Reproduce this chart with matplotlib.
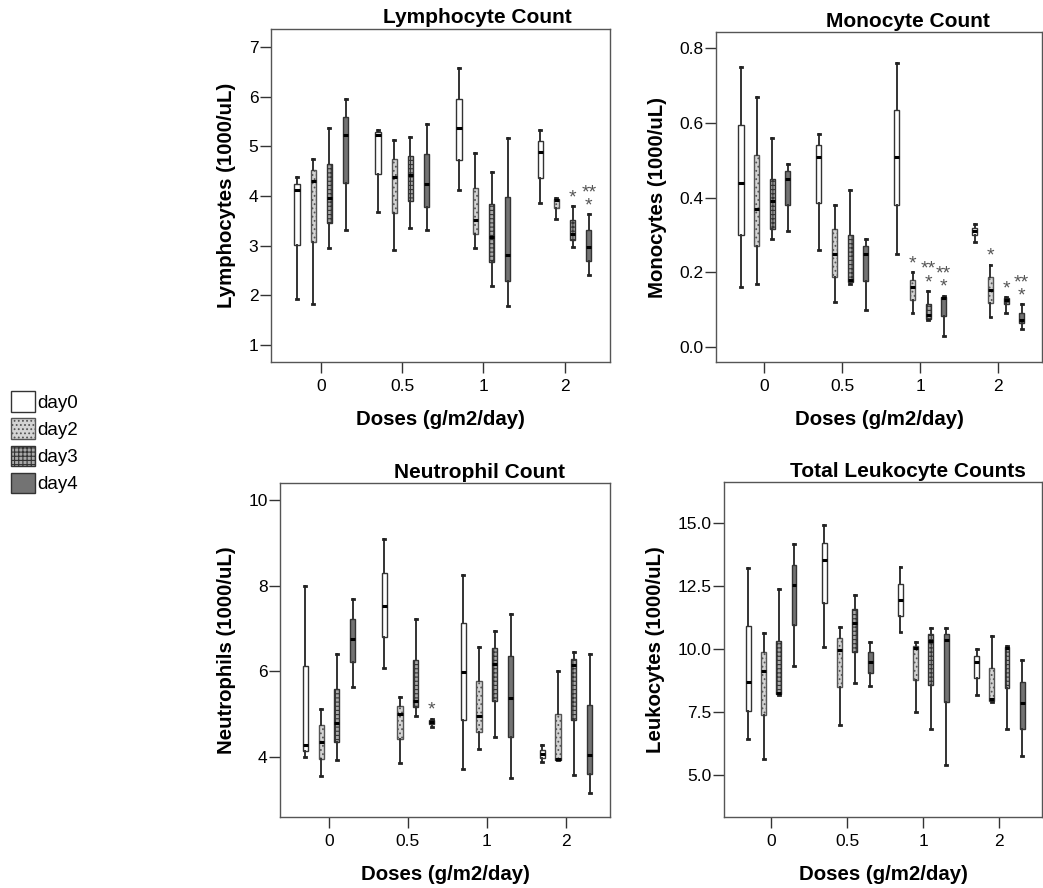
import matplotlib.pyplot as plt
from matplotlib.patches import Patch

plt.rcParams['font.family'] = ['Liberation Sans', 'DejaVu Sans']
plt.rcParams['hatch.linewidth'] = 0.8

doses = ["0", "0.5", "1", "2"]
days = ["day0", "day2", "day3", "day4"]

# (whisker low, q1, median, q3, whisker high), dose by dose, day0..day4 inside each dose
lymph = [
    (1.93, 3.01, 4.13, 4.25, 4.39), (1.83, 3.07, 4.30, 4.52, 4.74),
    (2.95, 3.46, 3.97, 4.65, 5.36), (3.31, 4.27, 5.22, 5.59, 5.96),
    (3.67, 4.45, 5.22, 5.28, 5.32), (2.91, 3.65, 4.39, 4.75, 5.12),
    (3.36, 3.90, 4.42, 4.80, 5.19), (3.31, 3.78, 4.25, 4.84, 5.44),
    (4.12, 4.73, 5.36, 5.95, 6.58), (2.95, 3.23, 3.51, 4.17, 4.86),
    (2.19, 2.68, 3.17, 3.83, 4.49), (1.79, 2.29, 2.82, 3.98, 5.16),
    (3.85, 4.37, 4.89, 5.10, 5.32), (3.53, 3.75, 3.92, 3.95, 3.97),
    (2.98, 3.11, 3.23, 3.51, 3.80), (2.41, 2.69, 2.98, 3.31, 3.63),
]
mono = [
    (0.16, 0.30, 0.44, 0.593, 0.749), (0.17, 0.27, 0.37, 0.515, 0.67),
    (0.29, 0.317, 0.39, 0.45, 0.56), (0.31, 0.38, 0.45, 0.47, 0.49),
    (0.26, 0.386, 0.51, 0.54, 0.57), (0.12, 0.187, 0.25, 0.316, 0.38),
    (0.17, 0.174, 0.18, 0.30, 0.42), (0.10, 0.176, 0.25, 0.27, 0.29),
    (0.25, 0.38, 0.51, 0.635, 0.76), (0.09, 0.127, 0.16, 0.18, 0.20),
    (0.073, 0.076, 0.087, 0.116, 0.15), (0.03, 0.082, 0.131, 0.135, 0.138),
    (0.28, 0.30, 0.31, 0.318, 0.33), (0.08, 0.118, 0.153, 0.187, 0.22),
    (0.092, 0.114, 0.125, 0.131, 0.134), (0.049, 0.064, 0.073, 0.091, 0.114),
]
neut = [
    (4.00, 4.14, 4.27, 6.13, 8.00), (3.55, 3.96, 4.35, 4.74, 5.13),
    (3.92, 4.36, 4.79, 5.60, 6.41), (5.64, 6.22, 6.75, 7.22, 7.69),
    (6.08, 6.80, 7.53, 8.31, 9.09), (3.86, 4.43, 5.00, 5.19, 5.40),
    (4.97, 5.17, 5.32, 6.27, 7.22), (4.71, 4.78, 4.83, 4.87, 4.89),
    (3.71, 4.86, 5.99, 7.12, 8.25), (4.19, 4.58, 4.97, 5.78, 6.57),
    (4.47, 5.32, 6.17, 6.55, 6.94), (3.52, 4.47, 5.39, 6.35, 7.33),
    (3.88, 3.98, 4.08, 4.17, 4.27), (3.92, 3.94, 3.96, 5.00, 6.02),
    (3.59, 4.87, 6.14, 6.30, 6.45), (3.16, 3.61, 4.04, 5.21, 6.41),
]
leuko = [
    (6.42, 7.54, 8.68, 10.93, 13.24), (5.62, 7.38, 9.13, 9.87, 10.63),
    (8.18, 8.21, 8.25, 10.32, 12.39), (9.34, 10.96, 12.55, 13.34, 14.17),
    (10.10, 11.82, 13.52, 14.21, 14.91), (6.99, 8.51, 9.97, 10.43, 10.89),
    (8.67, 9.90, 11.05, 11.58, 12.13), (8.54, 9.04, 9.50, 9.87, 10.30),
    (10.66, 11.33, 11.95, 12.59, 13.28), (7.48, 8.77, 10.03, 10.13, 10.30),
    (6.81, 8.58, 10.32, 10.59, 10.85), (5.40, 7.89, 10.36, 10.59, 10.83),
    (8.18, 8.84, 9.50, 9.74, 10.00), (7.89, 7.95, 8.02, 9.26, 10.52),
    (6.81, 8.44, 10.03, 10.07, 10.13), (5.77, 6.81, 7.85, 8.68, 9.57),
]

# significance marks: (box index, label)
lymph_stars = [(14, "*"), (15, "**\n*")]
mono_stars = [(9, "*"), (10, "**\n*"), (11, "**\n*"), (13, "*"), (14, "*"), (15, "**\n*")]
neut_stars = [(7, "*")]
leuko_stars = []

offsets = [-0.3, -0.1, 0.1, 0.3]
faces = ["white", "#d4d4d4", "#a8a8a8", "#737373"]
hatches = ["", "....", "++++", ""]
edges = ["#333333", "#555555", "#333333", "#333333"]


def draw_panel(ax, stats, stars, title, ylabel, ylim, yticks, ytl, title_x):
    positions = [g + offsets[d] for g in range(len(doses)) for d in range(len(days))]
    bstats = [dict(whislo=lo, q1=q1, med=md, q3=q3, whishi=hi, fliers=[])
              for lo, q1, md, q3, hi in stats]
    art = ax.bxp(bstats, positions=positions, widths=0.065, patch_artist=True,
                 showfliers=False, capwidths=0.025, manage_ticks=False,
                 whiskerprops=dict(color="#333333", lw=1.4),
                 capprops=dict(color="#222222", lw=2),
                 medianprops=dict(color="black", lw=2.2))
    for i, box in enumerate(art["boxes"]):
        d = i % 4
        box.set_facecolor(faces[d])
        box.set_hatch(hatches[d])
        box.set_edgecolor(edges[d])
        box.set_linewidth(1.0)
    for idx, lab in stars:
        ax.annotate(lab, (positions[idx], stats[idx][4]), xytext=(0, 0),
                    textcoords="offset points", ha="center", va="bottom",
                    fontsize=14, color="#555555", linespacing=0.7)
    ax.set_xlim(-0.62, 3.56)
    ax.set_ylim(*ylim)
    ax.set_xticks(range(len(doses)))
    ax.set_xticklabels(doses)
    ax.set_yticks(yticks)
    ax.set_yticklabels(ytl)
    ax.tick_params(axis="both", direction="out", length=8, width=1,
                   color="#333333", labelsize=12.5, pad=1)
    ax.tick_params(axis="x", pad=4)
    for s in ax.spines.values():
        s.set_color("#555555")
        s.set_linewidth(1.0)
    ax.set_title(title, fontsize=15, fontweight="bold", x=title_x, pad=4)
    ax.set_xlabel("Doses (g/m2/day)", fontsize=14.7, fontweight="bold", labelpad=12)
    ax.set_ylabel(ylabel, fontsize=14.7, fontweight="bold", labelpad=9)


fig = plt.figure(figsize=(10.43, 8.88), dpi=100)
ax1 = fig.add_axes([0.2598, 0.5923, 0.3250, 0.3750])
ax2 = fig.add_axes([0.6865, 0.5923, 0.3125, 0.3716])
ax3 = fig.add_axes([0.2685, 0.0800, 0.3164, 0.3760])
ax4 = fig.add_axes([0.6942, 0.0800, 0.3048, 0.3770])

draw_panel(ax1, lymph, lymph_stars, "Lymphocyte Count", "Lymphocytes (1000/uL)",
           (0.66, 7.36), [1, 2, 3, 4, 5, 6, 7], ["1", "2", "3", "4", "5", "6", "7"], 0.61)
draw_panel(ax2, mono, mono_stars, "Monocyte Count", "Monocytes (1000/uL)",
           (-0.04, 0.843), [0, 0.2, 0.4, 0.6, 0.8], ["0.0", "0.2", "0.4", "0.6", "0.8"], 0.59)
draw_panel(ax3, neut, neut_stars, "Neutrophil Count", "Neutrophils (1000/uL)",
           (2.6, 10.4), [4, 6, 8, 10], ["4", "6", "8", "10"], 0.605)
draw_panel(ax4, leuko, leuko_stars, "Total Leukocyte Counts", "Leukocytes (1000/uL)",
           (3.33, 16.63), [5, 7.5, 10, 12.5, 15], ["5.0", "7.5", "10.0", "12.5", "15.0"], 0.58)

handles = [Patch(facecolor=faces[d], hatch=hatches[d], edgecolor=edges[d], label=days[d])
           for d in range(len(days))]
fig.legend(handles=handles, loc="center left", bbox_to_anchor=(0.003, 0.502),
           frameon=False, fontsize=13.5, handlelength=1.3, handleheight=1.3,
           handletextpad=0.1, labelspacing=0.35, borderaxespad=0)

fig.savefig("out.png", dpi=100)
